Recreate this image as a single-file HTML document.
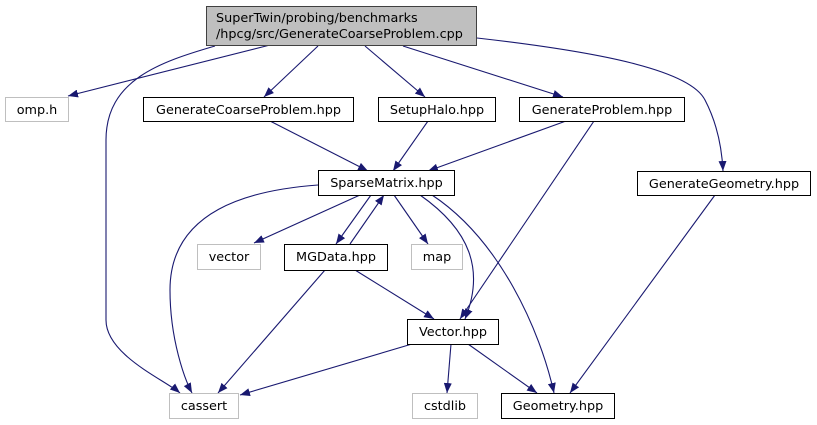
<!DOCTYPE html>
<html><head><meta charset="utf-8"><style>
html,body{margin:0;padding:0;background:#fff;}
svg{display:block;}
text{font-family:"DejaVu Sans","Liberation Sans",sans-serif;font-size:12.8px;fill:#000;}
</style></head><body>
<svg width="817" height="425" viewBox="0 0 817 425" xmlns="http://www.w3.org/2000/svg">
<defs>
<marker id="a" markerWidth="10" markerHeight="8" refX="10" refY="4" orient="auto" markerUnits="userSpaceOnUse">
<path d="M0,0 L10,4 L0,8 Z" fill="#191970"/>
</marker>
</defs>
<g fill="none" stroke="#191970" stroke-width="1.1" marker-end="url(#a)">
<path d="M270,45 L68,96"/>
<path d="M215,46 C160,62 106,80 106,140 L106,320 C106,355 165,380 180,393"/>
<path d="M318,46 L264,97"/>
<path d="M365,46 L425,97"/>
<path d="M403,46 L563,97"/>
<path d="M477,38 C600,52 690,70 705,100 C718,125 722,150 723,171"/>
<path d="M270,121 L368,171"/>
<path d="M428,121 L393,171"/>
<path d="M566,121 L428,171"/>
<path d="M594,121 L460,319"/>
<path d="M715,195 L570,393"/>
<path d="M318,185 C250,190 170,210 170,290 C170,340 185,380 192,393"/>
<path d="M360,195 L254,243"/>
<path d="M371,195 L336,244"/>
<path d="M350,244 L384,195"/>
<path d="M394,195 L428,244"/>
<path d="M420,195 C470,230 485,270 465,319"/>
<path d="M432,195 C500,240 540,330 554,393"/>
<path d="M325,270 L218,393"/>
<path d="M355,270 L434,319"/>
<path d="M412,344 L240,395"/>
<path d="M451,344 L447,393"/>
<path d="M468,344 L537,393"/>
</g>
<g stroke-width="1">
<rect x="206.5" y="6.5" width="270" height="39" fill="#bfbfbf" stroke="#404040"/>
<rect x="5.5" y="97.5" width="63" height="24" fill="#fff" stroke="#bfbfbf"/>
<rect x="143.5" y="97.5" width="210" height="24" fill="#fff" stroke="#000"/>
<rect x="378.5" y="97.5" width="117" height="24" fill="#fff" stroke="#000"/>
<rect x="519.5" y="97.5" width="165" height="24" fill="#fff" stroke="#000"/>
<rect x="318.5" y="170.5" width="136" height="25" fill="#fff" stroke="#000"/>
<rect x="637.5" y="171.5" width="173" height="24" fill="#fff" stroke="#000"/>
<rect x="197.5" y="244.5" width="63" height="25" fill="#fff" stroke="#bfbfbf"/>
<rect x="284.5" y="244.5" width="103" height="26" fill="#fff" stroke="#000"/>
<rect x="411.5" y="244.5" width="51" height="25" fill="#fff" stroke="#bfbfbf"/>
<rect x="407.5" y="319.5" width="91" height="25" fill="#fff" stroke="#000"/>
<rect x="169.5" y="393.5" width="69" height="25" fill="#fff" stroke="#bfbfbf"/>
<rect x="412.5" y="393.5" width="65" height="25" fill="#fff" stroke="#bfbfbf"/>
<rect x="501.5" y="393.5" width="113" height="25" fill="#fff" stroke="#000"/>
</g>
<text x="216" y="22">SuperTwin/probing/benchmarks</text>
<text x="216" y="38">/hpcg/src/GenerateCoarseProblem.cpp</text>
<text x="37" y="114" text-anchor="middle">omp.h</text>
<text x="248.5" y="114" text-anchor="middle">GenerateCoarseProblem.hpp</text>
<text x="437" y="114" text-anchor="middle">SetupHalo.hpp</text>
<text x="602" y="114" text-anchor="middle">GenerateProblem.hpp</text>
<text x="386.5" y="187" text-anchor="middle">SparseMatrix.hpp</text>
<text x="724" y="188" text-anchor="middle">GenerateGeometry.hpp</text>
<text x="229" y="261" text-anchor="middle">vector</text>
<text x="336" y="261" text-anchor="middle">MGData.hpp</text>
<text x="437" y="261" text-anchor="middle">map</text>
<text x="453" y="336" text-anchor="middle">Vector.hpp</text>
<text x="204" y="410" text-anchor="middle">cassert</text>
<text x="445" y="410" text-anchor="middle">cstdlib</text>
<text x="558" y="410" text-anchor="middle">Geometry.hpp</text>
</svg>
</body></html>
